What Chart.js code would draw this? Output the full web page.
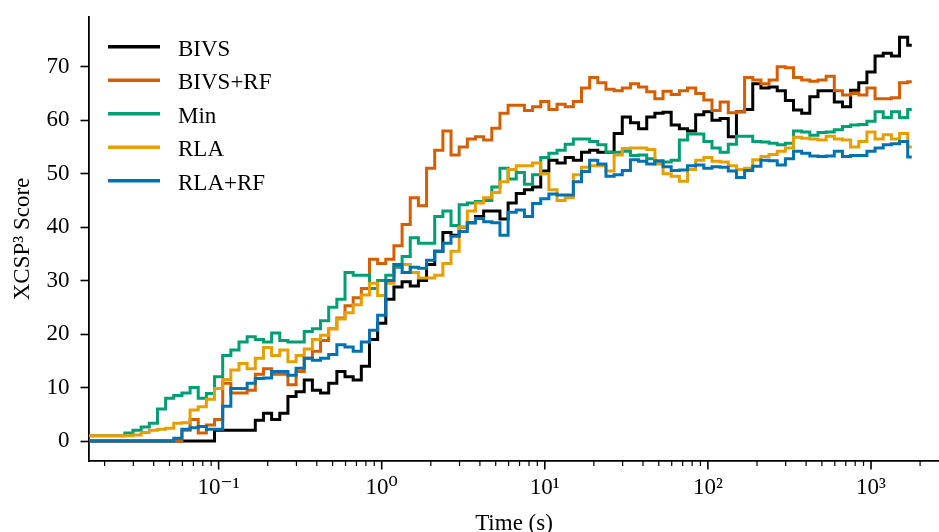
<!DOCTYPE html>
<html>
<head>
<meta charset="utf-8">
<script src="https://cdn.jsdelivr.net/npm/chart.js@4/dist/chart.umd.min.js"></script>
<style>
html,body{margin:0;padding:0;background:#fff;}
#c{display:block;}
</style>
</head>
<body>
<canvas id="c" width="939" height="532"></canvas>
<script>
// ---- data ----
// sample grid: log10 of time in seconds
const timeExp = [
-1.80,-1.75,-1.70,-1.65,-1.60,-1.55,-1.50,-1.45,-1.40,-1.35,-1.30,-1.25,-1.20,-1.15,-1.10,-1.05,-1.00,-0.95,-0.90,-0.85,
-0.80,-0.75,-0.70,-0.65,-0.60,-0.55,-0.50,-0.45,-0.40,-0.35,-0.30,-0.25,-0.20,-0.15,-0.10,-0.05,
0.00,0.05,0.10,0.15,0.20,0.25,0.30,0.35,0.40,0.45,0.50,0.55,0.60,0.65,0.70,0.75,0.80,0.85,0.90,0.95,
1.00,1.05,1.10,1.15,1.20,1.25,1.30,1.35,1.40,1.45,1.50,1.55,1.60,1.65,1.70,1.75,1.80,1.85,1.90,1.95,
2.00,2.05,2.10,2.15,2.20,2.25,2.30,2.35,2.40,2.45,2.50,2.55,2.60,2.65,2.70,2.75,2.80,2.85,2.90,2.95,
3.00,3.05,3.10,3.15,3.20,3.25
];

const bivs = [
0,0,0,0,0,0,0,0,0,0,0,0,0,0,0,0,2,2,2,2,
2,3.9,5.2,4,5.2,8.3,9.2,11.4,9.5,9,10.8,13,12,11.4,14,19,
22,26.5,28.8,29.8,29,30,33,35.5,39,38.5,40,40.8,42,43,43,41.5,44.5,46.3,47,47.5,
50.5,52.5,52,53,52.5,54,54.4,54,54,57.5,60.6,59.5,58.4,60.6,61.3,61.5,59.1,58.4,58,61,
61.6,60,60.3,56.9,61.6,62,66.8,66,66.2,65.5,63.7,61.9,61.3,64.4,65.5,65.5,63.4,62.5,65.6,67,
69,72,72.5,72,75.5,74
];

const bivsRf = [
0,0,0,0,0,0,0,0,0,0,0,0,2,4,1.5,3,4,10.8,9,9,
9.5,12.5,13.5,12.5,12.5,10.5,13,15.5,16.8,18.8,21,23,25.3,26.8,28.5,34,
33.2,34,36.5,40.5,45.5,44,51,54.4,58,53.5,55,56.5,56.9,56.3,58.5,61.3,62.8,62.8,61.8,62.5,
63.5,62,63,62.5,63.5,66,68,67,65.8,65.5,66,66.8,66.2,65.3,64,65.4,64.8,65.5,66,65,
63.8,61.8,63.4,61.4,61.6,68,67.5,66.8,67.5,70,69.8,68,67.5,67.3,67.5,68.2,65.5,64.7,65,64.7,
66,64,64,64.2,67,67.2
];

const minScore = [
1,1,1,1,1,1.5,2,2.6,3.3,6,8,8.5,9,10,8,8.9,12,16,17,18.5,
19.5,19,18.5,20.2,18.8,18.5,18.5,20.5,21,22.5,25,26.5,31.5,31,31,28.5,
30,31,32.5,34.5,38,37,37,42,43,40.3,44.2,44.5,44.8,45,47.5,51,49,50.2,48,49.8,
53,53.8,54.4,55.5,56.5,56.5,56,55.4,54,54,54.2,53.4,53.5,52.8,52,52.2,52.5,56.3,57.4,57.4,
56,54.8,54,55.5,57,57,56,55.9,55.7,55.4,55.7,58,57.8,57.2,57.7,57.8,58.2,58.8,59.1,59.2,
59.8,61.6,60.5,61.6,60.5,62
];

const rla = [
1,1,1,1,1,1,1.1,1.6,2,2.2,2.4,3.3,3.4,5.8,6.4,7.8,9.8,11.5,13.3,14.5,
13.5,15.5,17.5,16,17,14.8,16,17.2,19,19.8,21,22.8,24,25.5,27.3,29.5,
27.2,29.5,33,33,31.5,30.5,30.5,31,33.2,35.5,40,43,44.5,45.5,46.5,48.5,50.8,51.5,51.5,52,
50,47,45,45.5,49.8,51.2,51.5,51.5,50.5,53.5,54.7,54.8,54.8,54.5,51.8,50,49.5,48.6,50.8,52.5,
53,52.3,52.2,51.5,50.8,51,52.6,53.2,53.6,54.2,54.8,56.8,56.6,56.5,56.3,57,56.5,56.3,55,56,
57.8,56.5,57.3,56.5,57.5,55
];

const rlaRf = [
0,0,0,0,0,0,0,0,0,0,0,0.5,2.2,2.5,2.7,2.2,2.2,6.5,9.8,9.8,
10.8,11.7,11.8,13,13,12.3,13.6,15.5,15.1,15.5,16.2,18,17.6,16.8,18.5,20.7,
23.5,30,33,31.5,32.5,32.3,33.8,35.5,37,38.3,39.2,40.8,41.6,41,40.8,38.5,42.8,43.2,42,44.4,
45.3,46.2,46,46,48.5,50.4,52.5,51.8,49.5,49.8,50.6,52.6,52.3,51.8,52.4,51.3,50.6,50.7,51.5,51.6,
51,51.3,51.2,50.5,49.3,50.6,51.4,52.5,52.4,51.6,52.8,54.2,53.8,53.3,53.2,53.3,54.2,53.2,53.4,53.4,
54.2,54.8,55.4,55.6,56,53.1
];

const seriesNames  = ['BIVS', 'BIVS+RF', 'Min', 'RLA', 'RLA+RF'];
const seriesValues = [bivs, bivsRf, minScore, rla, rlaRf];
const seriesColors = ['#000000', '#D55E00', '#009E73', '#E69F00', '#0072B2'];

const yTickValues   = [0, 10, 20, 30, 40, 50, 60, 70];
const xMajorTicks   = [0.1, 1, 10, 100, 1000];
const xTickLabels   = ['10\u207B\u00B9', '10\u2070', '10\u00B9', '10\u00B2', '10\u00B3'];
const xMinorFactors = [2, 3, 4, 5, 6, 7, 8, 9];
const xDecades      = [0.01, 0.1, 1, 10, 100, 1000];

const X_MIN = 0.016043, X_MAX = 2612;
const Y_MIN = -3.74, Y_MAX = 79.3;
const FONT = "'Liberation Serif', 'DejaVu Serif', serif";

// tick list for the log axis
const xTicks = [];
xDecades.forEach(d => {
  xTicks.push({value: d, major: xMajorTicks.includes(d)});
  xMinorFactors.forEach(m => xTicks.push({value: +(m * d).toPrecision(6), major: false}));
});
const xTicksInRange = xTicks.filter(t => t.value >= X_MIN && t.value <= X_MAX).sort((a, b) => a.value - b.value);

const datasets = seriesNames.map((name, i) => ({
  label: name,
  data: timeExp.map((e, k) => ({x: Math.pow(10, e), y: seriesValues[i][k]})),
  borderColor: seriesColors[i],
  backgroundColor: seriesColors[i],
  borderWidth: 3,
  pointRadius: 0,
  stepped: 'middle',
  tension: 0,
  fill: false,
  order: seriesNames.length - i
}));

const axisTicksPlugin = {
  id: 'xAxisTicks',
  afterDraw(chart) {
    const xs = chart.scales.x, ctx = chart.ctx, area = chart.chartArea;
    ctx.save();
    ctx.strokeStyle = '#000';
    xTicksInRange.forEach(t => {
      const px = xs.getPixelForValue(t.value);
      if (px < area.left - 0.5 || px > area.right + 0.5) return;
      ctx.lineWidth = t.major ? 1.6 : 1.2;
      ctx.beginPath();
      ctx.moveTo(px, area.bottom);
      ctx.lineTo(px, area.bottom + (t.major ? 8.5 : 5));
      ctx.stroke();
    });
    ctx.restore();
  }
};

const insideLegendPlugin = {
  id: 'insideLegend',
  afterDraw(chart) {
    const ctx = chart.ctx, area = chart.chartArea;
    ctx.save();
    ctx.font = '23px ' + FONT;
    ctx.textBaseline = 'alphabetic';
    ctx.textAlign = 'left';
    ctx.fillStyle = '#000';
    chart.data.datasets.forEach((ds, i) => {
      const y = area.top + 29.7 + i * 33.5;
      ctx.strokeStyle = ds.borderColor;
      ctx.lineWidth = 3.4;
      ctx.beginPath();
      ctx.moveTo(area.left + 19, y);
      ctx.lineTo(area.left + 71, y);
      ctx.stroke();
      ctx.fillText(ds.label, area.left + 89, y + 8.8);
    });
    ctx.restore();
  }
};

Chart.defaults.font.family = FONT;
Chart.defaults.color = '#000';

new Chart(document.getElementById('c'), {
  type: 'line',
  data: {datasets},
  options: {
    responsive: false,
    animation: false,
    devicePixelRatio: 1,
    layout: {padding: {top: 17, left: 0, right: 0, bottom: 0}},
    plugins: {legend: {display: false}, tooltip: {enabled: false}},
    scales: {
      x: {
        type: 'logarithmic',
        min: X_MIN,
        max: X_MAX,
        afterBuildTicks: s => { s.ticks = xTicksInRange.map(t => ({value: t.value, major: t.major})); },
        afterFit: s => { s.height = 71; s.paddingLeft = 0; s.paddingRight = 0; },
        grid: {display: false, drawTicks: false, drawOnChartArea: false},
        border: {display: true, color: '#000', width: 1.8},
        ticks: {
          autoSkip: false,
          maxRotation: 0,
          minRotation: 0,
          padding: 13,
          color: '#000',
          font: {size: 23, family: FONT},
          callback: (v) => {
            const k = xMajorTicks.findIndex(m => Math.abs(m - v) / m < 1e-6);
            return k >= 0 ? xTickLabels[k] : '';
          }
        },
        title: {display: true, text: 'Time (s)', color: '#000', font: {size: 23, family: FONT, lineHeight: 0.7}, padding: 0}
      },
      y: {
        type: 'linear',
        min: Y_MIN,
        max: Y_MAX,
        afterBuildTicks: s => { s.ticks = yTickValues.map(v => ({value: v})); },
        afterFit: s => { s.width = 89; s.paddingTop = 0; s.paddingBottom = 0; },
        grid: {display: true, drawOnChartArea: false, drawTicks: true, tickLength: 8.5, tickWidth: 1.6, tickColor: '#000'},
        border: {display: true, color: '#000', width: 1.8},
        ticks: {padding: 11, color: '#000', font: {size: 23, family: FONT}},
        title: {display: true, text: 'XCSP\u00B3 Score', color: '#000', font: {size: 23, family: FONT}, padding: {top: 8.7, bottom: 0}}
      }
    }
  },
  plugins: [axisTicksPlugin, insideLegendPlugin]
});
</script>
</body>
</html>
